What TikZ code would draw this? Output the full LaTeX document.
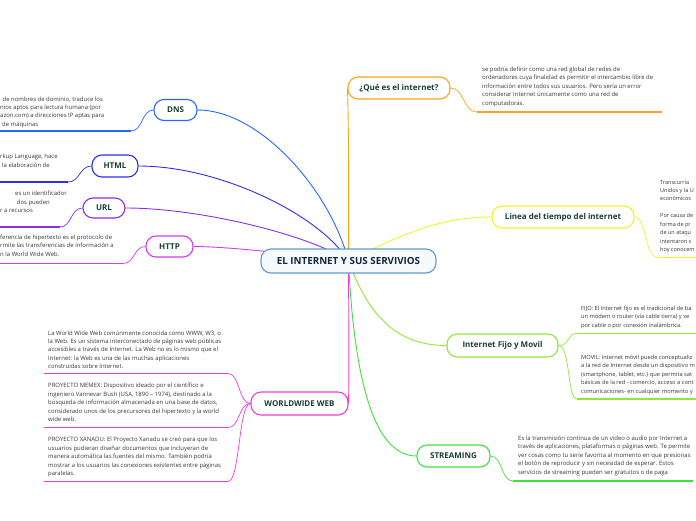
\documentclass[tikz,border=0pt]{standalone}
\usepackage{fontspec}
\setmainfont{Open Sans}
\usetikzlibrary{backgrounds}
\definecolor{cbord}{HTML}{5B9BD5}
\definecolor{cfill}{HTML}{F7FAFD}
\definecolor{navy}{HTML}{0F2740}
\definecolor{labc}{HTML}{173F35}
\definecolor{bodyc}{HTML}{363636}
\definecolor{dnsc}{HTML}{2A66FF}
\definecolor{htmlc}{HTML}{2E2EEE}
\definecolor{urlc}{HTML}{8A2EEE}
\definecolor{httpc}{HTML}{D23CEE}
\definecolor{wwwc}{HTML}{F03CD8}
\definecolor{quec}{HTML}{FFA41F}
\definecolor{linc}{HTML}{F2F22A}
\definecolor{fijoc}{HTML}{92E63A}
\definecolor{strc}{HTML}{3EE23E}
\tikzset{
  topicbox/.style={draw, rounded corners=10pt, fill=white, line width=1.1pt, minimum height=22pt, inner sep=0pt, font=\fontsize{8}{9.5}\selectfont\bfseries, text=labc},
  bodytext/.style={anchor=north west, inner sep=0pt, align=left, font=\fontsize{5.95}{8.45}\selectfont, text=bodyc},
  uline/.style={line width=1.6pt},
  conn/.style={line width=0.9pt},
  subconn/.style={line width=0.7pt},
}
\begin{document}
\begin{tikzpicture}[x=1pt,y=-1pt]
\path[use as bounding box] (0,0) rectangle (696,520);

% topic nodes
\node[topicbox, draw=cbord, fill=cfill, minimum width=175pt, minimum height=24pt, font=\fontsize{9.8}{11}\selectfont\bfseries, text=navy] (c) at (348.5,261) {EL INTERNET Y SUS SERVIVIOS};
\node[topicbox, draw=dnsc, minimum width=43pt, minimum height=21pt] (dns) at (175.5,110) {DNS};
\node[topicbox, draw=htmlc, minimum width=46pt] (html) at (115,166) {HTML};
\node[topicbox, draw=urlc, minimum width=42pt, minimum height=20pt] (url) at (104,208) {URL};
\node[topicbox, draw=httpc, minimum width=47pt, minimum height=21pt] (http) at (169.5,246.5) {HTTP};
\node[topicbox, draw=wwwc, minimum width=97pt, minimum height=23pt] (www) at (299.5,403.5) {WORLDWIDE WEB};
\node[topicbox, draw=quec, minimum width=102pt] (que) at (399,88) {¿Qué es el internet?};
\node[topicbox, draw=linc, minimum width=142pt] (lin) at (563,217) {Linea del tiempo del internet};
\node[topicbox, draw=fijoc, minimum width=111pt, minimum height=23pt] (fijo) at (502.5,345.5) {Internet Fijo y Movil};
\node[topicbox, draw=strc, minimum width=73pt] (str) at (453.5,456) {STREAMING};

% main connectors behind the nodes
\begin{pgfonlayer}{background}
\draw[conn,dnsc] (c.center) .. controls (330,190) and (260,110) .. (dns.east);
\draw[conn,htmlc] (c.center) .. controls (320,215) and (220,166) .. (html.east);
\draw[conn,urlc] (c.center) .. controls (310,235) and (200,208) .. (url.east);
\draw[conn,httpc] (c.center) .. controls (300,255) and (230,246.5) .. (http.east);
\draw[conn,quec] (c.center) .. controls (349,140) and (348,105) .. (que.west);
\draw[conn,linc] (c.center) .. controls (400,235) and (440,217) .. (lin.west);
\draw[conn,fijoc] (c.center) .. controls (370,320) and (400,345.5) .. (fijo.west);
\draw[conn,strc] (c.center) .. controls (355,400) and (380,456) .. (str.west);
\draw[conn,wwwc] (c.center) .. controls (349,350) and (349,380) .. (www.east);
\end{pgfonlayer}

% DNS
\node[bodytext] (dnst) at (0,96.3) {\hspace*{2.5pt}de nombres de dominio, traduce los\\nios aptos para lectura humana (por\\azon.com) a direcciones IP aptas para\\\hspace*{2pt}de máquinas};
\coordinate (dnsu) at (131,131); \coordinate (dnsl) at (0,131);
\draw[uline,dnsc] (dnsl) -- (dnsu);
\draw[subconn,dnsc] (dns.west) .. controls +(-12,0) and +(12,0) .. (dnsu);

% HTML
\node[bodytext] (htmlt) at (0,154) {rkup Language, hace\\\hspace*{2pt}la elaboración de};
\coordinate (htmlu) at (68,182); \coordinate (htmll) at (0,182);
\draw[uline,htmlc] (htmll) -- (htmlu);
\draw[subconn,htmlc] (html.west) .. controls +(-12,0) and +(12,0) .. (htmlu);

% URL
\node[bodytext] (urlt) at (0,191) {\hspace*{15pt}es un identificador\\\hspace*{16.7pt}dos pueden\\r a recursos};
\coordinate (urlu) at (60,227); \coordinate (urll) at (0,227);
\draw[uline,urlc] (urll) -- (urlu);
\draw[subconn,urlc] (url.west) .. controls +(-12,0) and +(12,0) .. (urlu);

% HTTP
\node[bodytext] (httpt) at (0,234.7) {ferencia de hipertexto es el protocolo de\\rmite las transferencias de información a\\n la World Wide Web.};
\coordinate (httpu) at (123,263.5); \coordinate (httpl) at (0,263.5);
\draw[uline,httpc] (httpl) -- (httpu);
\draw[subconn,httpc] (http.west) .. controls +(-12,0) and +(12,0) .. (httpu);

% Que es
\node[bodytext] (quet) at (482,66.7) {se podría definir como una red global de redes de\\ordenadores cuya finalidad es permitir el intercambio libre de\\información entre todos sus usuarios. Pero sería un error\\considerar Internet únicamente como una red de\\computadoras.};
\coordinate (queu) at (477,112); \coordinate (quel) at (662,112);
\draw[uline,quec] (queu) -- (quel);
\draw[subconn,quec] (que.east) .. controls +(14,0) and +(-14,0) .. (queu);

% Linea del tiempo
\node[bodytext, font=\fontsize{5.5}{8.45}\selectfont] (lint) at (660,179.6) {Transcurría\\Unidos y la U\\económicos\\[8.45pt]Por causa de\\forma de pr\\de un ataqu\\intentaron s\\hoy conocem};
\coordinate (linu) at (657,257.3); \coordinate (linl) at (696,257.3);
\draw[uline,linc] (linu) -- (linl);
\draw[subconn,linc] (lin.east) .. controls +(12,0) and +(-12,0) .. (linu);

% Internet Fijo y Movil
\node[bodytext, font=\fontsize{5.72}{8.45}\selectfont] (fijot) at (581,305.9) {FIJO: El Internet fijo es el tradicional de ba\\un módem o router (vía cable tierra) y se\\por cable o por conexión inalámbrica.};
\node[bodytext, font=\fontsize{5.72}{8.45}\selectfont] (movt) at (581,354.9) {MOVIL: Internet móvil puede conceptualiz\\a la red de Internet desde un dispositivo m\\(smartphone, tablet, etc.) que permita sat\\básicas de la red - comercio, acceso a cont\\comunicaciones- en cualquier momento y};
\coordinate (fiju) at (577,333.3); \coordinate (fijl) at (696,333.3);
\coordinate (movu) at (577,399); \coordinate (movl) at (696,399);
\draw[uline,fijoc] (fiju) -- (fijl);
\draw[uline,fijoc] (movu) -- (movl);
\draw[subconn,fijoc] (fijo.east) .. controls +(12,0) and +(-10,0) .. (fiju);
\draw[subconn,fijoc] (fijo.east) .. controls +(12,0) and +(-10,0) .. (movu);

% Streaming
\node[bodytext] (strt) at (518,435.7) {Es la transmisión continua de un video o audio por Internet a\\través de aplicaciones, plataformas o páginas web. Te permite\\ver cosas como tu serie favorita al momento en que presionas\\el botón de reproducir y sin necesidad de esperar. Estos\\servicios de streaming pueden ser gratuitos o de paga};
\coordinate (stru) at (513,481); \coordinate (strl) at (693,481);
\draw[uline,strc] (stru) -- (strl);
\draw[subconn,strc] (str.east) .. controls +(12,0) and +(-12,0) .. (stru);

% World Wide Web
\node[bodytext] (wwwa) at (48,330.3) {La World Wide Web comúnmente conocida como WWW, W3, o\\la Web. Es un sistema interconectado de páginas web públicas\\accesibles a través de Internet. La Web no es lo mismo que el\\Internet: la Web es una de las muchas aplicaciones\\construidas sobre Internet.};
\node[bodytext] (wwwb) at (48,383) {PROYECTO MEMEX: Dispositivo ideado por el científico e\\ingeniero Vannevar Bush (USA, 1890 – 1974), destinado a la\\búsqueda de información almacenada en una base de datos,\\considerado unos de los precursores del hipertexto y la world\\wide web.};
\node[bodytext] (wwwc3) at (48,437) {PROYECTO XANADU: El Proyecto Xanadu se creó para que los\\usuarios pudieran diseñar documentos que incluyeran de\\manera automática las fuentes del mismo. También podría\\mostrar a los usuarios las conexiones existentes entre páginas\\paralelas.};
\coordinate (wau) at (228,373.5); \coordinate (wal) at (44,373.5);
\coordinate (wbu) at (228,427.5); \coordinate (wbl) at (44,427.5);
\coordinate (wcu) at (228,481.5); \coordinate (wcl) at (44,481.5);
\draw[uline,wwwc] (wal) -- (wau);
\draw[uline,wwwc] (wbl) -- (wbu);
\draw[uline,wwwc] (wcl) -- (wcu);
\draw[subconn,wwwc] (www.west) .. controls +(-12,0) and +(12,0) .. (wau);
\draw[subconn,wwwc] (www.west) .. controls +(-12,0) and +(12,0) .. (wbu);
\draw[subconn,wwwc] (www.west) .. controls +(-12,0) and +(12,0) .. (wcu);
\end{tikzpicture}
\end{document}
